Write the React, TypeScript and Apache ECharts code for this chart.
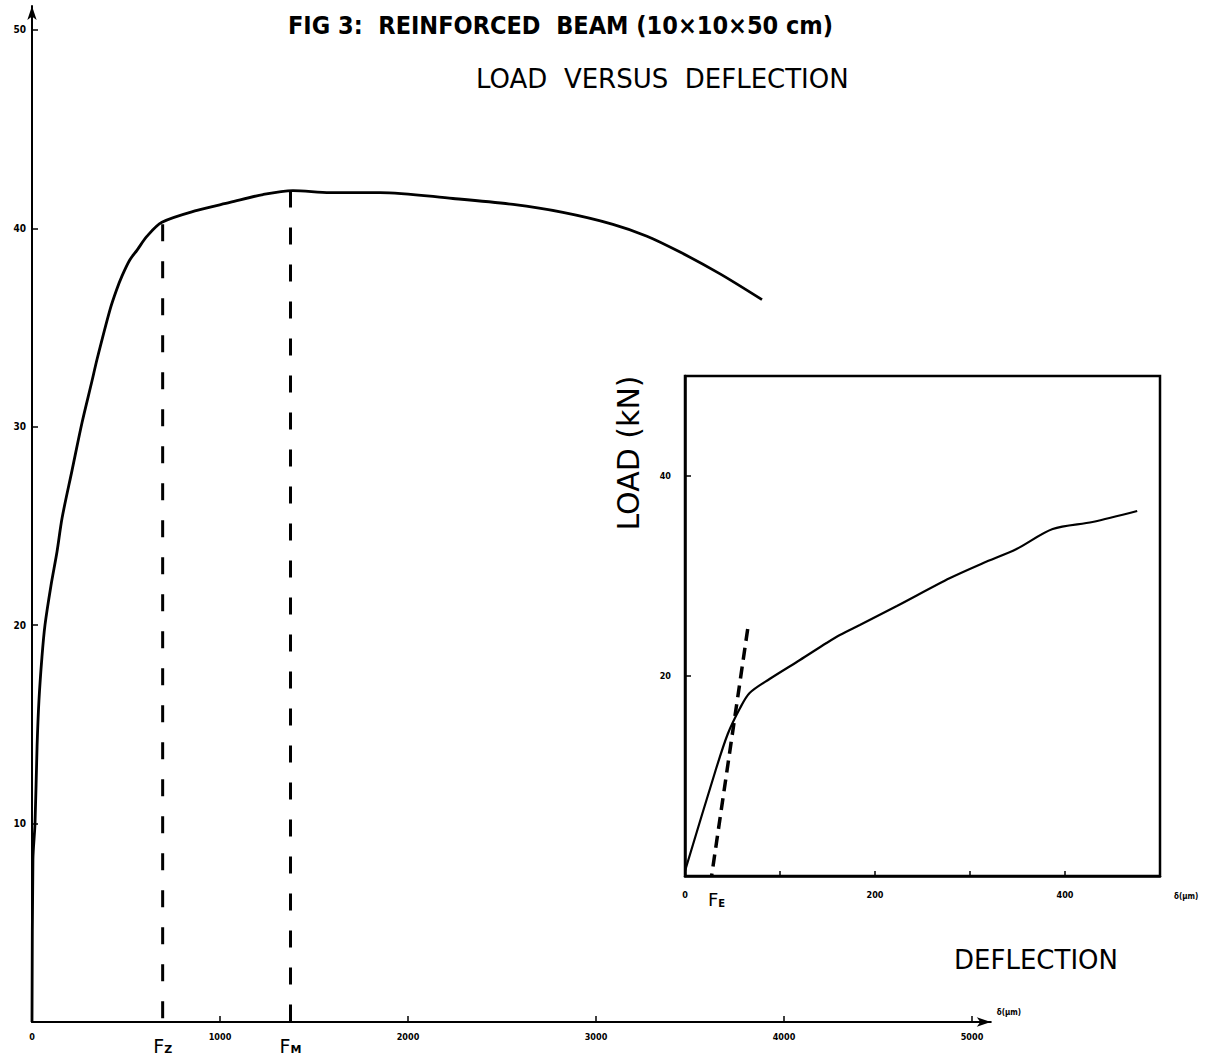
import React, { useEffect, useRef } from "react";
import * as echarts from "echarts";

// ---- Main curve: deflection (µm) vs load (kN)
const mainDeflection = [0, 5, 16, 27, 37, 53, 69, 101, 133, 160, 213, 266, 319, 346, 415, 450, 479, 520, 559, 612, 691, 878, 1053, 1229, 1388, 1585, 1851, 2239, 2559, 2824, 3090, 3271, 3447, 3660, 3883];
const mainLoad = [0, 8.2, 10, 13.9, 16.2, 18.4, 20.0, 22.0, 23.7, 25.4, 27.8, 30.2, 32.3, 33.4, 35.9, 36.9, 37.6, 38.4, 38.9, 39.6, 40.3, 40.9, 41.3, 41.7, 41.9, 41.8, 41.8, 41.5, 41.2, 40.8, 40.2, 39.6, 38.8, 37.7, 36.4];

// ---- Inset curve
const insetDeflection = [0, 32, 45, 58, 68, 89, 121, 149, 163, 184, 223, 279, 314, 349, 387, 429, 476];
const insetLoad = [0.5, 10.5, 14.2, 16.8, 18.3, 19.7, 21.6, 23.3, 24.1, 25.1, 27.0, 29.8, 31.3, 32.7, 34.7, 35.4, 36.5];

// ---- Marker lines
const fzDeflection = 695;
const fzLoad = 40.2;
const fmDeflection = 1375;
const fmLoad = 41.9;
const feDeflection = [66, 28];
const feLoad = [24.7, 0];

// ---- Ticks / labels
const mainXTicks = [1000, 2000, 3000, 4000, 5000];
const mainXLabels = [0, 1000, 2000, 3000, 4000, 5000];
const mainYTicks = [10, 20, 30, 40, 50];
const insetXTicks = [100, 200, 300, 400];
const insetXLabels = [0, 200, 400];
const insetYTicks = [20, 40];

const titleLine1 = "FIG 3:  REINFORCED  BEAM (10×10×50 cm)";
const titleLine2 = "LOAD  VERSUS  DEFLECTION";
const insetYName = "LOAD (kN)";
const insetXName = "DEFLECTION";
const deltaName = "δ(μm)";

const FONT = '"DejaVu Sans", sans-serif';
const COND = '"DejaVu Sans Condensed", "DejaVu Sans", sans-serif';

export default function App() {
  const ref = useRef<HTMLDivElement>(null);
  useEffect(() => {
    if (!ref.current) return;
    const chart = echarts.init(ref.current, null, { renderer: "svg" });
    const zip = (a: number[], b: number[]) => a.map((v, i) => [v, b[i]]);
    const labelTick = { color: "#000", fontFamily: COND, fontWeight: "bold", fontSize: 10 };
    chart.setOption({
      animation: false,
      backgroundColor: "#fff",
      title: [
        {
          text: titleLine1,
          left: 283,
          top: 8,
          textStyle: { fontFamily: COND, fontWeight: "bold", fontSize: 25, color: "#000" },
        },
        {
          text: titleLine2,
          left: 471,
          top: 61,
          textStyle: { fontFamily: FONT, fontWeight: "normal", fontSize: 26, color: "#000" },
        },
      ],
      grid: [
        { left: 32, top: 6, width: 958.8, height: 1016 },
        { left: 685, top: 376, width: 475, height: 500, show: true, borderColor: "#000", borderWidth: 2.5 },
      ],
      xAxis: [
        {
          gridIndex: 0,
          type: "value",
          min: 0,
          max: 5100,
          splitLine: { show: false },
          axisLine: { show: true, symbol: ["none", "arrow"], symbolSize: [7, 14], lineStyle: { color: "#000", width: 2 } },
          axisTick: { show: true, inside: true, length: 6, customValues: mainXTicks, lineStyle: { color: "#000", width: 1.5 } },
          axisLabel: {
            customValues: [mainXLabels[0], fzDeflection, ...mainXLabels.slice(1, 2), fmDeflection, ...mainXLabels.slice(2)],
            margin: 10,
            formatter: (v: number) =>
              v === fzDeflection ? "{f|F}{s|Z}" : v === fmDeflection ? "{f|F}{s|M}" : "{n|" + v + "}",
            rich: {
              n: { ...labelTick, fontSize: 9 },
              f: { fontFamily: FONT, fontSize: 19, color: "#000", padding: [4, 0, 0, 0] },
              s: { fontFamily: FONT, fontSize: 11, fontWeight: "bold", color: "#000", padding: [11, 0, 0, 0] },
            },
          },
          name: deltaName,
          nameLocation: "end",
          nameGap: 6,
          nameTextStyle: { ...labelTick, fontSize: 8, verticalAlign: "bottom", padding: [0, 0, 6, 0] },
        },
        {
          gridIndex: 1,
          type: "value",
          min: 0,
          max: 500,
          splitLine: { show: false },
          axisLine: { show: true, lineStyle: { color: "#000", width: 2.5 } },
          axisTick: { show: true, inside: true, length: 5, customValues: insetXTicks, lineStyle: { color: "#000", width: 1.5 } },
          axisLabel: {
            customValues: [insetXLabels[0], feDeflection[1], ...insetXLabels.slice(1)],
            margin: 14,
            formatter: (v: number) => (v === feDeflection[1] ? "{f|F}{s|E}" : "{n|" + v + "}"),
            rich: {
              n: { ...labelTick, fontSize: 9 },
              f: { fontFamily: FONT, fontSize: 18, color: "#000", padding: [0, 0, 0, 10] },
              s: { fontFamily: FONT, fontSize: 10, fontWeight: "bold", color: "#000", padding: [8, 0, 0, 0] },
            },
          },
          name: deltaName,
          nameLocation: "end",
          nameGap: 14,
          nameTextStyle: { ...labelTick, fontSize: 8, verticalAlign: "top", padding: [16, 0, 0, 0] },
        },
      ],
      yAxis: [
        {
          gridIndex: 0,
          type: "value",
          min: 0,
          max: 51.2,
          splitLine: { show: false },
          axisLine: { show: true, symbol: ["none", "arrow"], symbolSize: [7, 14], lineStyle: { color: "#000", width: 2 } },
          axisTick: { show: true, inside: true, length: 6, customValues: mainYTicks, lineStyle: { color: "#000", width: 1.5 } },
          axisLabel: { customValues: mainYTicks, margin: 6, ...labelTick },
        },
        {
          gridIndex: 1,
          type: "value",
          min: 0,
          max: 50,
          splitLine: { show: false },
          axisLine: { show: true, lineStyle: { color: "#000", width: 2.5 } },
          axisTick: { show: true, inside: true, length: 6, customValues: insetYTicks, lineStyle: { color: "#000", width: 1.5 } },
          axisLabel: { customValues: insetYTicks, margin: 14, ...labelTick, fontSize: 9 },
        },
      ],
      series: [
        {
          type: "line",
          xAxisIndex: 0,
          yAxisIndex: 0,
          data: zip(mainDeflection, mainLoad),
          showSymbol: false,
          smooth: 0.3,
          lineStyle: { color: "#000", width: 2.8 },
        },
        {
          type: "line",
          xAxisIndex: 0,
          yAxisIndex: 0,
          data: [[fzDeflection, fzLoad], [fzDeflection, 0]],
          showSymbol: false,
          lineStyle: { color: "#000", width: 3, type: [17, 20], cap: "butt" },
        },
        {
          type: "line",
          xAxisIndex: 0,
          yAxisIndex: 0,
          data: [[fmDeflection, fmLoad], [fmDeflection, 0]],
          showSymbol: false,
          lineStyle: { color: "#000", width: 3, type: [17, 20], cap: "butt" },
        },
        {
          type: "line",
          xAxisIndex: 1,
          yAxisIndex: 1,
          data: zip(insetDeflection, insetLoad),
          showSymbol: false,
          smooth: 0.3,
          lineStyle: { color: "#000", width: 2.2 },
        },
        {
          type: "line",
          xAxisIndex: 1,
          yAxisIndex: 1,
          data: zip(feDeflection, feLoad),
          showSymbol: false,
          lineStyle: { color: "#000", width: 3.5, type: [12, 7], cap: "butt" },
        },
      ],
      graphic: [
        {
          type: "text",
          x: 628,
          y: 453,
          rotation: Math.PI / 2,
          style: {
            text: insetYName,
            font: '30px "DejaVu Sans", sans-serif',
            fill: "#000",
            textAlign: "center",
            textVerticalAlign: "middle",
          },
        },
        {
          type: "text",
          x: 1036,
          y: 960,
          style: {
            text: insetXName,
            font: '26px "DejaVu Sans", sans-serif',
            fill: "#000",
            textAlign: "center",
            textVerticalAlign: "middle",
          },
        },
      ],
    });
    return () => chart.dispose();
  }, []);
  return <div ref={ref} style={{ position: "absolute", left: 0, top: 0, width: 1217, height: 1059 }} />;
}
